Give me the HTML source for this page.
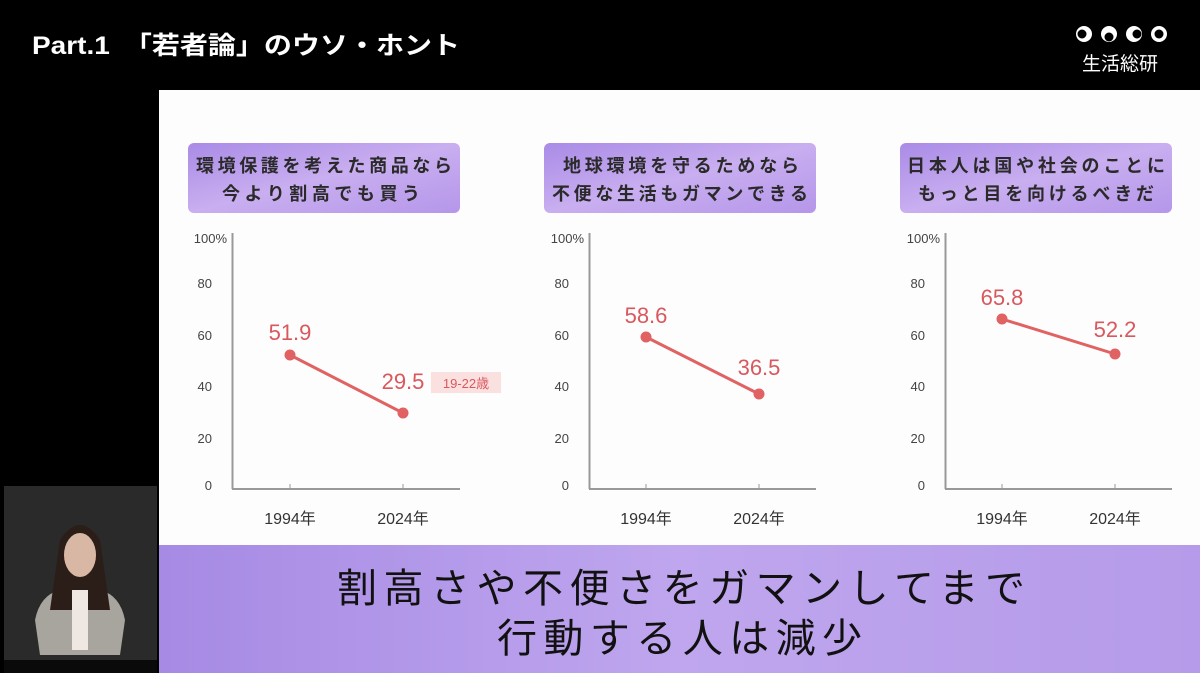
<!DOCTYPE html>
<html><head><meta charset="utf-8"><style>
html,body{margin:0;padding:0;background:#000;width:1200px;height:673px;overflow:hidden}
svg{display:block}
text{font-family:"Liberation Sans","Noto Sans CJK JP",sans-serif}
</style></head><body>
<svg width="1200" height="673" viewBox="0 0 1200 673" xmlns="http://www.w3.org/2000/svg">
<defs>
<linearGradient id="pb" x1="0" y1="0" x2="1" y2="1">
<stop offset="0" stop-color="#a98be6"/><stop offset="0.5" stop-color="#c9aef0"/><stop offset="1" stop-color="#b596ea"/>
</linearGradient>
<linearGradient id="ban" x1="0" y1="0" x2="1" y2="0">
<stop offset="0" stop-color="#a68ae4"/><stop offset="0.5" stop-color="#bfa6ee"/><stop offset="1" stop-color="#b59be9"/>
</linearGradient>
</defs>
<rect width="1200" height="673" fill="#000"/>
<text x="32" y="54" font-size="25" font-weight="bold" fill="#fff" textLength="428" lengthAdjust="spacingAndGlyphs">Part.1　「若者論」のウソ・ホント</text>
<g fill="#fff">
<circle cx="1084" cy="34" r="8"/><circle cx="1109" cy="34" r="8"/><circle cx="1134" cy="34" r="8"/><circle cx="1159" cy="34" r="8"/>
</g>
<g fill="#000">
<circle cx="1082" cy="34" r="4.5"/><circle cx="1109" cy="37" r="4.5"/><circle cx="1137" cy="34" r="4.5"/><circle cx="1159" cy="34" r="4.5"/>
</g>
<text x="1120" y="70" font-size="19" fill="#fff" text-anchor="middle">生活総研</text>
<rect x="159" y="90" width="1041" height="455" fill="#fdfdfd"/>
<rect x="159" y="545" width="1041" height="128" fill="url(#ban)"/>
<text x="337" y="602" font-size="40" fill="#111" textLength="688" lengthAdjust="spacing">割高さや不便さをガマンしてまで</text>
<text x="497" y="652" font-size="40" fill="#111" textLength="365" lengthAdjust="spacing">行動する人は減少</text>
<rect x="4" y="486" width="153" height="174" fill="#2a2a2a"/>
<rect x="4" y="660" width="153" height="13" fill="#0a0a0a"/>
<path d="M40 655 L35 620 Q40 595 60 590 L100 590 Q120 595 125 620 L120 655 Z" fill="#a8a49e"/>
<path d="M60 540 Q80 510 100 540 L110 610 L50 610 Z" fill="#2b1d17"/>
<ellipse cx="80" cy="555" rx="16" ry="22" fill="#d8b8a4"/>
<rect x="72" y="590" width="16" height="60" fill="#eee7e2"/>
<g font-size="13" fill="#444" text-anchor="end">
<rect x="188" y="143" width="272" height="70" rx="6" fill="url(#pb)"/>
<text x="196" y="172" font-size="18" font-weight="bold" fill="#2a2a2a" text-anchor="start" textLength="256" lengthAdjust="spacing">環境保護を考えた商品なら</text>
<text x="222" y="200" font-size="18" font-weight="bold" fill="#2a2a2a" text-anchor="start" textLength="198" lengthAdjust="spacing">今より割高でも買う</text>
<text x="227" y="243">100%</text><text x="212" y="288">80</text><text x="212" y="340">60</text><text x="212" y="391">40</text><text x="212" y="443">20</text><text x="212" y="490">0</text>
<line x1="232.5" y1="233" x2="232.5" y2="489" stroke="#999" stroke-width="2"/>
<line x1="232" y1="489" x2="460" y2="489" stroke="#999" stroke-width="2"/>
<line x1="290" y1="484" x2="290" y2="489" stroke="#999"/><line x1="403" y1="484" x2="403" y2="489" stroke="#999"/>
<text x="290" y="524" font-size="16" fill="#333" text-anchor="middle">1994年</text>
<text x="403" y="524" font-size="16" fill="#333" text-anchor="middle">2024年</text>
<line x1="290" y1="355" x2="403" y2="413" stroke="#e06262" stroke-width="3"/>
<circle cx="290" cy="355" r="5.5" fill="#e06262"/><circle cx="403" cy="413" r="5.5" fill="#e06262"/>
<text x="290" y="340" font-size="22" fill="#d9585e" text-anchor="middle">51.9</text>
<text x="403" y="389" font-size="22" fill="#d9585e" text-anchor="middle">29.5</text>
<rect x="431" y="372" width="70" height="21" fill="#fbe0e0"/>
<text x="466" y="388" font-size="13" fill="#d9585e" text-anchor="middle">19-22歳</text>
<rect x="544" y="143" width="272" height="70" rx="6" fill="url(#pb)"/>
<text x="563" y="172" font-size="18" font-weight="bold" fill="#2a2a2a" text-anchor="start" textLength="236" lengthAdjust="spacing">地球環境を守るためなら</text>
<text x="552" y="200" font-size="18" font-weight="bold" fill="#2a2a2a" text-anchor="start" textLength="256" lengthAdjust="spacing">不便な生活もガマンできる</text>
<text x="584" y="243">100%</text><text x="569" y="288">80</text><text x="569" y="340">60</text><text x="569" y="391">40</text><text x="569" y="443">20</text><text x="569" y="490">0</text>
<line x1="589.5" y1="233" x2="589.5" y2="489" stroke="#999" stroke-width="2"/>
<line x1="589" y1="489" x2="816" y2="489" stroke="#999" stroke-width="2"/>
<line x1="646" y1="484" x2="646" y2="489" stroke="#999"/><line x1="759" y1="484" x2="759" y2="489" stroke="#999"/>
<text x="646" y="524" font-size="16" fill="#333" text-anchor="middle">1994年</text>
<text x="759" y="524" font-size="16" fill="#333" text-anchor="middle">2024年</text>
<line x1="646" y1="337" x2="759" y2="394" stroke="#e06262" stroke-width="3"/>
<circle cx="646" cy="337" r="5.5" fill="#e06262"/><circle cx="759" cy="394" r="5.5" fill="#e06262"/>
<text x="646" y="323" font-size="22" fill="#d9585e" text-anchor="middle">58.6</text>
<text x="759" y="375" font-size="22" fill="#d9585e" text-anchor="middle">36.5</text>
<rect x="900" y="143" width="272" height="70" rx="6" fill="url(#pb)"/>
<text x="907" y="172" font-size="18" font-weight="bold" fill="#2a2a2a" text-anchor="start" textLength="258" lengthAdjust="spacing">日本人は国や社会のことに</text>
<text x="918" y="200" font-size="18" font-weight="bold" fill="#2a2a2a" text-anchor="start" textLength="236" lengthAdjust="spacing">もっと目を向けるべきだ</text>
<text x="940" y="243">100%</text><text x="925" y="288">80</text><text x="925" y="340">60</text><text x="925" y="391">40</text><text x="925" y="443">20</text><text x="925" y="490">0</text>
<line x1="945.5" y1="233" x2="945.5" y2="489" stroke="#999" stroke-width="2"/>
<line x1="945" y1="489" x2="1172" y2="489" stroke="#999" stroke-width="2"/>
<line x1="1002" y1="484" x2="1002" y2="489" stroke="#999"/><line x1="1115" y1="484" x2="1115" y2="489" stroke="#999"/>
<text x="1002" y="524" font-size="16" fill="#333" text-anchor="middle">1994年</text>
<text x="1115" y="524" font-size="16" fill="#333" text-anchor="middle">2024年</text>
<line x1="1002" y1="319" x2="1115" y2="354" stroke="#e06262" stroke-width="3"/>
<circle cx="1002" cy="319" r="5.5" fill="#e06262"/><circle cx="1115" cy="354" r="5.5" fill="#e06262"/>
<text x="1002" y="305" font-size="22" fill="#d9585e" text-anchor="middle">65.8</text>
<text x="1115" y="337" font-size="22" fill="#d9585e" text-anchor="middle">52.2</text>
</g>
</svg>
</body></html>
